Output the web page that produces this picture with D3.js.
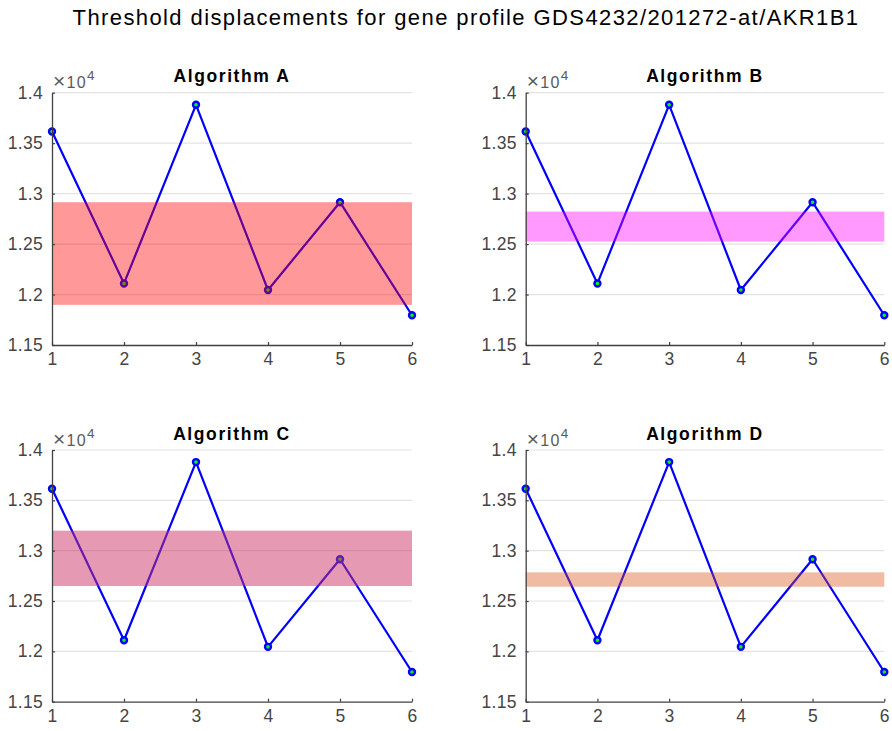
<!DOCTYPE html>
<html>
<head>
<meta charset="utf-8">
<script src="https://cdn.jsdelivr.net/npm/d3@7"></script>
<style>
  html, body { margin: 0; padding: 0; background: #fff; }
  svg { display: block; font-family: "Liberation Sans", Arial, Helvetica, sans-serif; }
</style>
</head>
<body>
<svg id="chart" width="892" height="731"></svg>
<script>
// Expression profile (same series in every panel) and sample positions
const samples = [1, 2, 3, 4, 5, 6];
const profile = [13615, 12110, 13880, 12045, 12915, 11795];

// Threshold band found by each algorithm
const algorithms = ["Algorithm A", "Algorithm B", "Algorithm C", "Algorithm D"];
const bandLow = [11898, 12525, 12649, 12642];
const bandHigh = [12915, 12822, 13199, 12785];

// Axis ticks (in units of 10^4)
const yTickLabels = ["1.15", "1.2", "1.25", "1.3", "1.35", "1.4"];
const xTickLabels = ["1", "2", "3", "4", "5", "6"];

const mainTitle = "Threshold displacements for gene profile GDS4232/201272-at/AKR1B1";

// Band styling per panel
const bandFill = ["#ff0000", "#ff00ff", "#cc3366", "#d95319"];
const bandOpacity = [0.4, 0.4, 0.5, 0.4];

const svg = d3.select("#chart");

svg.append("text")
  .attr("x", 466).attr("y", 25)
  .attr("text-anchor", "middle")
  .attr("font-size", 22)
  .attr("letter-spacing", 1.4)
  .attr("fill", "#000")
  .text(mainTitle);

const panels = [
  { left: 52, right: 412, top: 92.7, bottom: 345 },
  { left: 525.7, right: 884.3, top: 92.7, bottom: 345 },
  { left: 52, right: 412, top: 450, bottom: 701.7 },
  { left: 525.7, right: 884.3, top: 450, bottom: 701.7 }
];

const axisColor = "#404040";
const yTickValues = yTickLabels.map(s => +s * 1e4);

panels.forEach((p, i) => {
  const g = svg.append("g");
  const x = d3.scaleLinear().domain([1, 6]).range([p.left, p.right]);
  const y = d3.scaleLinear().domain([11500, 14000]).range([p.bottom, p.top]);

  // horizontal grid
  g.append("g").selectAll("line")
    .data(yTickValues.slice(1))
    .join("line")
    .attr("x1", p.left).attr("x2", p.right)
    .attr("y1", d => y(d)).attr("y2", d => y(d))
    .attr("stroke", "#e3e3e3").attr("stroke-width", 1.2);

  // profile line
  const line = d3.line().x((d, j) => x(samples[j])).y(d => y(d));
  g.append("path")
    .datum(profile)
    .attr("d", line)
    .attr("fill", "none")
    .attr("stroke", "#0000ff")
    .attr("stroke-width", 2.2)
    .attr("stroke-linejoin", "round");

  g.append("g").selectAll("circle")
    .data(profile)
    .join("circle")
    .attr("cx", (d, j) => x(samples[j]))
    .attr("cy", d => y(d))
    .attr("r", 3)
    .attr("fill", "#00ff00")
    .attr("stroke", "#0000ff")
    .attr("stroke-width", 2.4);

  // threshold band (translucent, over the profile)
  g.append("rect")
    .attr("x", x(1))
    .attr("width", x(6) - x(1))
    .attr("y", y(bandHigh[i]))
    .attr("height", y(bandLow[i]) - y(bandHigh[i]))
    .attr("fill", bandFill[i])
    .attr("fill-opacity", bandOpacity[i]);

  // axes
  const yAxis = d3.axisLeft(y)
    .tickValues(yTickValues)
    .tickFormat((d, j) => yTickLabels[j])
    .tickSizeInner(-3).tickSizeOuter(0).tickPadding(9);
  const ya = g.append("g").attr("transform", `translate(${p.left},0)`).call(yAxis);

  const xAxis = d3.axisBottom(x)
    .tickValues(samples)
    .tickFormat((d, j) => xTickLabels[j])
    .tickSizeInner(-3).tickSizeOuter(0).tickPadding(8);
  const xa = g.append("g").attr("transform", `translate(0,${p.bottom})`).call(xAxis);

  [ya, xa].forEach(a => {
    a.select(".domain").attr("stroke", axisColor).attr("stroke-width", 1.3);
    a.selectAll(".tick line").attr("stroke", axisColor).attr("stroke-width", 1.2);
    a.selectAll(".tick text")
      .attr("fill", "#454545")
      .attr("font-size", 17.5)
      .attr("letter-spacing", 0.3)
      .attr("font-family", "\"Liberation Sans\", Arial, sans-serif");
  });
  xa.selectAll(".tick text").attr("dy", "0.71em");

  // exponent label
  const ex = g.append("text")
    .attr("x", p.left + 1).attr("y", p.top - 4.5)
    .attr("fill", "#5a5a5a")
    .attr("font-size", 16)
    .attr("letter-spacing", 1.3);
  ex.append("tspan").attr("font-size", 21).text("\u00d7");
  ex.append("tspan").text("10");
  ex.append("tspan").attr("dy", -8).attr("font-size", 13.5).text("4");

  // panel title
  g.append("text")
    .attr("x", (p.left + p.right) / 2)
    .attr("y", p.top - 10.5)
    .attr("text-anchor", "middle")
    .attr("font-weight", "bold")
    .attr("font-size", 17.5)
    .attr("letter-spacing", 1.6)
    .attr("fill", "#000")
    .text(algorithms[i]);
});
</script>
</body>
</html>
